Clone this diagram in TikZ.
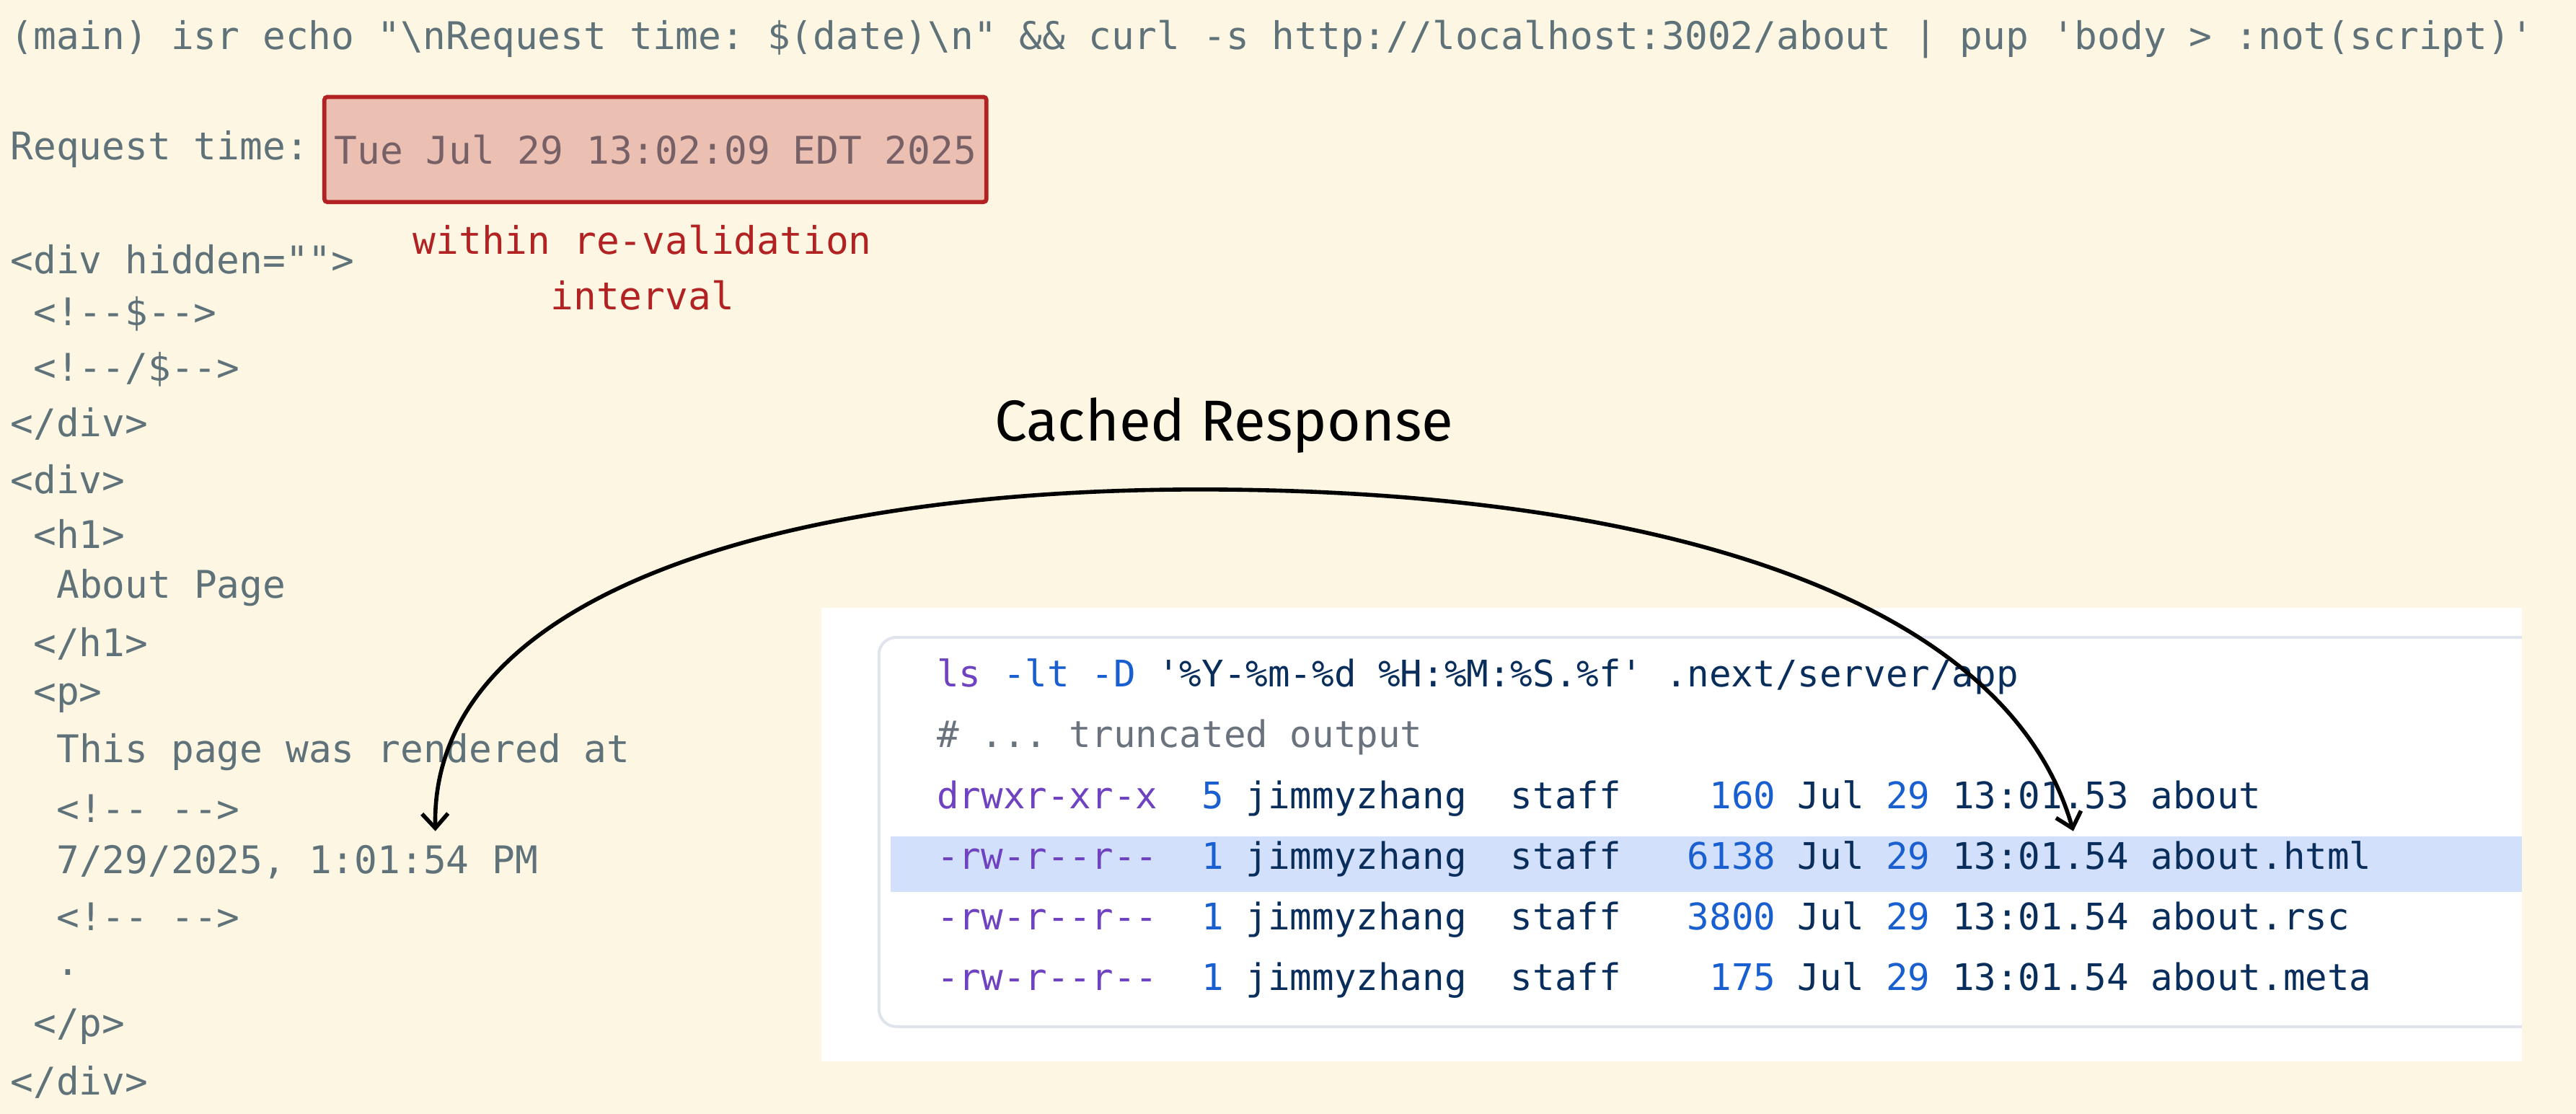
\documentclass[tikz,border=0pt]{standalone}
\usepackage{fontspec}
\setmonofont{DejaVu Sans Mono}
\newfontfamily\headfont{Fira Sans}
\usetikzlibrary{positioning, arrows.meta}
\definecolor{paper}{HTML}{FDF6E3}
\definecolor{codegray}{HTML}{5F7279}
\definecolor{boxred}{HTML}{B22222}
\definecolor{boxfill}{HTML}{EBC0B3}
\definecolor{rowblue}{HTML}{D3E0FB}
\definecolor{panelline}{HTML}{E0E4EC}
\definecolor{perm}{HTML}{6F42C1}
\definecolor{num}{HTML}{1A5FD0}
\definecolor{navy}{HTML}{0A2E5C}
\definecolor{cmt}{HTML}{6A737D}
\newcommand{\codefont}{\ttfamily\fontsize{13.2}{19.3}\selectfont}
\newcommand{\lsfont}{\ttfamily\fontsize{12.7}{15}\selectfont}
\newcommand{\row}[6]{\textcolor{perm}{#1}~~\textcolor{num}{#2}~\textcolor{navy}{jimmyzhang~~staff}#3\textcolor{num}{#4}~\textcolor{navy}{Jul}~\textcolor{num}{29}~\textcolor{navy}{#5~#6}}
\tikzset{
  txt/.style={anchor=west, inner sep=0pt, font=\codefont, text=codegray},
  lsline/.style={anchor=west, inner sep=0pt, font=\lsfont, text=navy},
  arrow/.style={thick, line width=1.4pt, {Straight Barb[length=5pt,width=9pt]}-{Straight Barb[length=5pt,width=9pt]}}
}
\begin{document}
\begin{tikzpicture}[x=0.02cm, y=-0.02cm]
      \useasboundingbox[fill=paper] (0,0) rectangle (1568,678);

      % terminal output
      \node (cmd)    [txt] at (6,24)  {(main) isr echo "\textbackslash nRequest time: \$(date)\textbackslash n" \&\& curl -s http://localhost:3002/about | pup 'body > :not(script)'};
      \node (reqlbl) [txt] at (6,91)  {Request time:};
      \node (reqtime) [right=0.16cm of reqlbl, font=\codefont, text=codegray!85!red, fill=boxfill, draw=boxred, line width=0.05cm, rounded corners=1pt, minimum height=1.28cm, inner xsep=0.12cm] {Tue Jul 29 13:02:09 EDT 2025};
      \node (note)   [font=\codefont, text=boxred, align=center, inner sep=0pt] at (391,163) {within re-validation\\interval};

      \node (divh)   [txt] at (6,158)  {<div hidden="">};
      \node (cm1)    [txt] at (20,191) {<!--\$-->};
      \node (cm2)    [txt] at (20,225) {<!--/\$-->};
      \node (divhe)  [txt] at (6,258)  {</div>};
      \node (div)    [txt] at (6,292)  {<div>};
      \node (h1)     [txt] at (20,325) {<h1>};
      \node (title)  [txt] at (34,358) {About Page};
      \node (h1e)    [txt] at (20,392) {</h1>};
      \node (p)      [txt] at (20,425) {<p>};
      \node (ptext)  [txt] at (34,458) {This page was rendered at};
      \node (cm3)    [txt] at (34,492) {<!-- -->};
      \node (stamp)  [txt] at (34,525) {7/29/2025, 1:01:54 PM};
      \node (cm4)    [txt] at (34,558) {<!-- -->};
      \node (dot)    [txt] at (34,592) {.};
      \node (pe)     [txt] at (20,625) {</p>};
      \node (dive)   [txt] at (6,659)  {</div>};

      % ls panel
      \fill[white] (500,370) rectangle (1535,646);
      \draw[panelline, line width=1pt, rounded corners=6pt] (1535,388) -| (535,625) -- (1535,625);
      \fill[rowblue] (542,509) rectangle (1535,543);
      \node (lscmd) [lsline] at (570,412) {\textcolor{perm}{ls}~\textcolor{num}{-lt~-D}~'\%Y-\%m-\%d~\%H:\%M:\%S.\%f'~.next/server/app};
      \node (lscmt) [lsline, text=cmt] at (570,449) {\#~...~truncated~output};
      \node (dir)   [lsline] at (570,486) {\row{drwxr-xr-x}{5}{~~~~}{160}{13:01.53}{about}};
      \node (html)  [lsline] at (570,523) {\row{-rw-r{-}-r{-}-}{1}{~~~}{6138}{13:01.54}{about.html}};
      \node (rsc)   [lsline] at (570,560) {\row{-rw-r{-}-r{-}-}{1}{~~~}{3800}{13:01.54}{about.rsc}};
      \node (meta)  [lsline] at (570,597) {\row{-rw-r{-}-r{-}-}{1}{~~~~}{175}{13:01.54}{about.meta}};

      % cache arrow
      \node (cached) [font=\headfont\fontsize{20}{24}\selectfont, inner sep=0pt] at (745,259) {Cached Response};
      \coordinate (stampend) at (265,506);
      \coordinate (htmlend)  at (1262,506);
      \coordinate (peak)     at (730,298);
      \draw [arrow] (stampend) .. controls (262,360) and (480,298) .. (peak)
                               .. controls (1000,298) and (1220,360) .. (htmlend);
    \end{tikzpicture}
\end{document}
